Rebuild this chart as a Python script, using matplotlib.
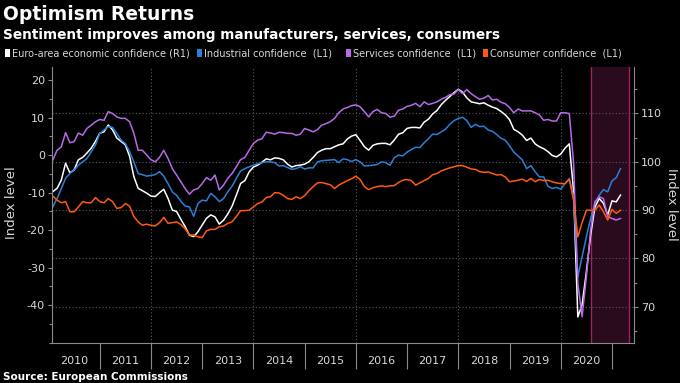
import numpy as np
import matplotlib
matplotlib.use('Agg')
import matplotlib.pyplot as plt
from matplotlib.ticker import MultipleLocator, FixedLocator, NullFormatter
from matplotlib.patches import Rectangle

plt.rcParams['font.family'] = ['DejaVu Sans']
plt.rcParams['axes.unicode_minus'] = False

# Monthly readings, Jan 2010 - Feb 2021
esi = [  # Euro-area economic confidence, right axis
    93.8, 94.5, 96.2, 99.7, 97.7, 98.3, 100.4, 100.9, 101.8, 102.8, 104.2, 105.9,
    106.2, 107.6, 106.6, 104.9, 104.2, 103.5, 101.1, 96.9, 94.5, 94.0, 93.5, 92.9,
    92.8, 93.6, 94.3, 92.4, 90.0, 89.7, 88.1, 86.6, 84.8, 84.5, 85.5, 86.9,
    88.3, 89.0, 88.6, 87.1, 87.9, 89.2, 90.8, 93.1, 95.5, 96.1, 97.9, 98.9,
    99.3, 99.9, 100.6, 100.4, 100.8, 100.7, 100.4, 99.5, 98.9, 99.2, 99.3, 99.5,
    100.0, 100.9, 101.9, 102.4, 102.7, 102.7, 103.1, 103.5, 103.7, 104.7, 105.3, 105.6,
    104.4, 103.1, 102.4, 103.4, 103.7, 103.8, 103.8, 103.5, 104.5, 105.7, 106.0, 106.9,
    107.1, 107.1, 107.0, 108.2, 108.8, 109.9, 110.6, 111.8, 112.7, 113.5, 114.3, 115.0,
    114.4, 113.2, 112.4, 112.2, 112.0, 112.2, 111.7, 111.3, 111.0, 110.4, 109.7, 108.7,
    106.7, 106.2, 105.5, 104.4, 104.9, 103.7, 103.1, 102.7, 102.1, 101.3, 101.0, 101.6,
    102.8, 103.7, 94.0, 67.9, 70.4, 77.2, 84.8, 90.6, 92.4, 91.4, 89.0, 91.9,
    91.7, 93.1,
]
industrial = [
    -13.8, -11.6, -8.9, -6.2, -4.9, -4.0, -2.7, -1.8, -0.9, 0.9, 2.7, 5.8,
    6.7, 7.6, 7.4, 5.8, 4.0, 3.1, 0.9, -1.8, -4.9, -5.2, -5.6, -5.4,
    -5.2, -4.4, -5.6, -7.6, -9.8, -10.7, -12.3, -13.6, -13.8, -16.3, -12.9, -12.0,
    -12.2, -10.2, -11.1, -12.4, -11.6, -9.8, -8.3, -6.2, -4.2, -3.6, -3.1, -2.7,
    -2.3, -2.0, -1.8, -1.8, -2.0, -2.9, -2.8, -3.3, -3.8, -3.6, -3.1, -3.7,
    -3.4, -3.4, -1.8, -1.5, -1.4, -1.3, -1.2, -2.0, -1.0, -1.2, -1.7, -1.2,
    -1.8, -2.9, -2.8, -2.7, -2.5, -1.8, -2.0, -2.7, -0.7, 0.0, -0.2, 0.8,
    1.5, 2.1, 2.0, 3.3, 4.4, 5.6, 5.5, 6.2, 6.9, 8.2, 9.2, 9.8,
    10.1, 9.2, 7.4, 8.2, 7.6, 7.7, 6.7, 6.3, 5.5, 4.5, 4.0, 2.5,
    0.8, -0.2, -1.3, -3.6, -2.8, -4.4, -5.8, -5.8, -8.3, -8.9, -8.6, -9.1,
    -7.6, -6.2, -11.0, -32.4, -27.1, -21.8, -16.9, -12.9, -10.7, -9.2, -9.8, -6.9,
    -6.0, -3.6,
]
services = [
    -1.3, 1.3, 2.2, 6.0, 3.3, 3.6, 5.9, 5.3, 7.1, 8.0, 8.9, 9.5,
    9.3, 11.6, 11.1, 10.2, 9.8, 9.8, 8.9, 5.8, 1.3, 1.3, 0.0, -1.2,
    -1.8, -0.6, 1.3, -0.9, -3.6, -5.3, -7.1, -8.9, -10.4, -9.3, -8.9, -7.6,
    -6.0, -6.7, -5.3, -9.3, -8.0, -6.2, -4.9, -3.1, -1.2, -0.6, 1.3, 3.1,
    4.0, 4.4, 6.1, 5.9, 5.6, 6.1, 6.0, 5.8, 5.8, 5.3, 5.6, 7.1,
    6.7, 6.2, 6.8, 8.0, 8.4, 8.9, 9.8, 11.3, 12.3, 12.7, 13.2, 13.4,
    12.9, 11.6, 10.2, 11.6, 12.2, 11.3, 11.1, 10.1, 10.4, 12.0, 12.3, 13.0,
    13.3, 13.8, 12.9, 14.2, 13.5, 13.8, 14.2, 14.9, 15.4, 16.1, 16.3, 17.5,
    16.4, 17.5, 16.4, 15.6, 14.9, 15.2, 15.9, 14.7, 14.9, 14.1, 13.7, 12.7,
    11.3, 12.3, 11.8, 11.8, 11.8, 11.3, 10.7, 9.3, 9.5, 9.1, 9.1, 11.3,
    11.3, 11.1, -2.0, -34.2, -43.1, -32.4, -20.0, -12.4, -11.1, -11.6, -16.4, -16.9,
    -17.3, -16.9,
]
consumer = [
    -10.9, -12.0, -12.7, -12.4, -15.1, -15.1, -13.8, -12.4, -12.7, -12.7, -11.3, -12.4,
    -12.7, -11.6, -12.4, -14.2, -14.0, -12.9, -13.6, -16.4, -17.8, -18.7, -18.4, -18.7,
    -18.9, -18.0, -16.6, -18.2, -18.0, -17.8, -18.5, -19.6, -21.3, -21.3, -21.8, -22.0,
    -20.2, -19.8, -19.8, -19.1, -18.9, -18.2, -17.8, -16.4, -14.8, -14.8, -14.7, -13.8,
    -12.9, -12.5, -11.3, -11.1, -10.0, -10.1, -10.7, -11.6, -11.8, -11.1, -11.6, -10.8,
    -9.5, -8.4, -7.4, -7.3, -7.6, -7.9, -8.9, -8.0, -7.4, -6.8, -6.3, -5.6,
    -6.5, -8.4, -9.2, -8.7, -8.4, -8.2, -8.4, -8.2, -8.1, -7.3, -6.7, -6.5,
    -6.8, -8.0, -7.4, -6.8, -6.2, -5.2, -4.9, -4.2, -3.8, -3.4, -3.1, -2.8,
    -2.8, -3.2, -3.7, -3.8, -4.4, -4.6, -4.5, -4.9, -5.3, -5.2, -5.8, -7.1,
    -6.9, -6.7, -6.4, -7.0, -6.2, -7.1, -6.5, -6.8, -6.7, -7.1, -7.4, -7.6,
    -7.6, -6.5, -12.0, -21.8, -18.0, -14.7, -14.7, -14.7, -13.3, -15.1, -17.3, -14.5,
    -15.5, -14.7,
]
year_labels = [str(y) for y in range(2010, 2021)]
shade_from, shade_to = 2020.586, 2021.34   # highlighted period

# colours
WHITE = '#ffffff'
BLUE = '#2b7fd6'
PURPLE = '#b86ae6'
ORANGE = '#ff5a10'
GRID = '#5a5a5a'
SPINE = '#8a8a8a'
TXT = '#d8d8d8'


def draw():
    fig = plt.figure(figsize=(6.8, 3.83), dpi=100, facecolor='black')
    ax = fig.add_axes([52 / 680, 40 / 383, 582 / 680, 276 / 383])
    ax2 = ax.twinx()
    # left-axis lines on top of the right axis
    ax.set_zorder(ax2.get_zorder() + 1)
    ax.patch.set_visible(False)

    t = 2010 + (np.arange(len(esi)) + 1) / 12

    # highlighted period
    ax2.axvspan(shade_from, shade_to, facecolor='#2a0a1d', edgecolor='none', zorder=0)
    for edge in (shade_from, shade_to):
        ax2.axvline(edge, color='#a3215f', lw=1.0, zorder=0.5)

    # grid: horizontal on right-axis ticks, vertical every two years
    for v in range(70, 120, 10):
        ax2.axhline(v, color=GRID, lw=0.8, ls=(0, (1, 2)), zorder=0.6)
    for yr in range(2012, 2021, 2):
        ax2.axvline(yr, color=GRID, lw=0.8, ls=(0, (1, 2)), zorder=0.6)

    ax2.plot(t, esi, color=WHITE, lw=1.1, zorder=2)
    ax.plot(t, industrial, color=BLUE, lw=1.1)
    ax.plot(t, services, color=PURPLE, lw=1.1)
    ax.plot(t, consumer, color=ORANGE, lw=1.1)

    ax.set_xlim(2010.068, 2021.43)
    ax.set_ylim(-50.1, 23.5)
    ax2.set_ylim(62.5, 119.6)

    # spines
    for a in (ax, ax2):
        a.spines['top'].set_visible(False)
    ax.spines['right'].set_visible(False)
    ax2.spines['left'].set_visible(False)
    ax2.spines['bottom'].set_visible(False)
    ax.spines['left'].set_color(SPINE)
    ax.spines['bottom'].set_color(SPINE)
    ax2.spines['right'].set_color(SPINE)

    # y ticks
    ax.set_yticks(range(-40, 21, 10))
    ax.yaxis.set_minor_locator(MultipleLocator(5))
    ax2.set_yticks(range(70, 111, 10))
    ax2.yaxis.set_minor_locator(MultipleLocator(5))
    for a in (ax, ax2):
        a.tick_params(axis='y', which='major', colors=SPINE, labelcolor=TXT,
                      labelsize=8, length=3, width=0.8, pad=2)
        a.tick_params(axis='y', which='minor', colors=SPINE, length=2, width=0.8)

    # x axis: separators at year boundaries, labels centred in each year
    ax.xaxis.set_major_locator(FixedLocator(range(2011, 2022)))
    ax.xaxis.set_major_formatter(NullFormatter())
    ax.xaxis.set_minor_locator(FixedLocator([y + 0.5 for y in range(2010, 2021)]))
    ax.set_xticklabels(year_labels, minor=True)
    ax.tick_params(axis='x', which='major', colors=SPINE, length=19, width=0.8)
    ax.tick_params(axis='x', which='minor', length=0, labelcolor=TXT, labelsize=8, pad=9)

    # axis titles
    fig.text(12 / 680, 1 - 203 / 383, 'Index level', rotation=90, color=TXT,
             fontsize=9.5, ha='center', va='center')
    fig.text(671 / 680, 1 - 204 / 383, 'Index level', rotation=270, color=TXT,
             fontsize=9.5, ha='center', va='center')

    # title block
    fig.text(3 / 680, 1 - 15 / 383, 'Optimism Returns', color='white', fontsize=13.5,
             weight='bold', ha='left', va='center')
    fig.text(3 / 680, 1 - 35 / 383, 'Sentiment improves among manufacturers, services, consumers',
             color='white', fontsize=9.8, weight='bold', ha='left', va='center')

    # legend row
    items = [(5, WHITE, 'Euro-area economic confidence (R1)'),
             (197, BLUE, 'Industrial confidence  (L1)'),
             (346, PURPLE, 'Services confidence  (L1)'),
             (483, ORANGE, 'Consumer confidence  (L1)')]
    for x0, c, lab in items:
        fig.patches.append(Rectangle((x0 / 680, 1 - 57 / 383), 5 / 680, 8 / 383,
                                     transform=fig.transFigure, facecolor=c, edgecolor='none'))
        fig.text((x0 + 7) / 680, 1 - 53 / 383, lab, color=TXT, fontsize=7,
                 ha='left', va='center')

    fig.text(3 / 680, 1 - 377 / 383, 'Source: European Commissions', color='white',
             fontsize=7.5, weight='bold', ha='left', va='center')

    fig.savefig('out.png', dpi=100, facecolor='black')
    plt.close(fig)


if __name__ == '__main__':
    draw()
